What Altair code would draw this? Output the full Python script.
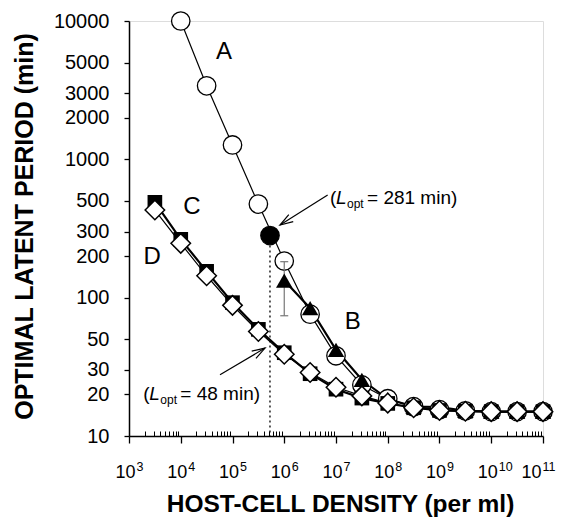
import math
import altair as alt
import pandas as pd

W, H = 414, 415
FONT = "Liberation Sans"

# ---- data ----
density = [3.162e3, 1e4, 3.162e4, 1e5, 3.162e5, 1e6, 3.162e6, 1e7, 3.162e7,
           1e8, 3.162e8, 1e9, 3.162e9, 1e10, 3.162e10, 1e11]
curve_d = [430, 247, 144, 88, 57, 39, 28.8, 22.5, 19.5, 17.3, 16.0, 15.3, 15.1, 15.0, 15.0, 15.0]
curve_c = [489, 264, 155, 92, 59, 40, 28.2, 21.8, 18.8, 17.2, 16.0, 15.3, 15.1, 15.0, 15.0, 15.0]

density_a = [1e4, 3.162e4, 1e5, 3.162e5, 1e6, 3.162e6, 1e7, 3.162e7, 1e8,
             3.162e8, 1e9, 3.162e9, 1e10, 3.162e10, 1e11]
curve_a = [10000, 3400, 1270, 475, 184, 76, 38, 23.4, 18.6, 16.3, 15.5, 15.2, 15.0, 15.0, 15.0]

density_b = [1e6, 3.162e6, 1e7, 3.162e7, 1e8, 3.162e8, 1e9, 3.162e9, 1e10, 3.162e10, 1e11]
curve_b = [133, 84, 42, 25.5, 18.5, 16.3, 16.2, 15.2, 15.0, 15.0, 15.0]

opt_x = [5.3e5]
opt_y = [281]
axis_floor = [10]

err_x = [1e6]
err_lo = [74]
err_hi = [182]

letters = ["A", "B", "C", "D"]
letter_x = [6.85e4, 2.11e7, 1.65e4, 2.8e3]
letter_y = [5960, 67, 453, 196]

ann_rest = ["= 281 min)", "= 48 min)"]
ann_x = [7.66e6, 1.89e3]
ann_y = [475, 18.2]

arrow_x = [6.9e6, 5.73e4]
arrow_y = [552, 27.7]
arrow_tx = [8.28e5, 4.25e5]
arrow_ty = [335, 43.2]

y_ticks = [10, 20, 30, 50, 100, 200, 300, 500, 1000, 2000, 3000, 5000, 10000]
decades = [1e3, 1e4, 1e5, 1e6, 1e7, 1e8, 1e9, 1e10, 1e11]
minors = [m * 10 ** k for k in range(3, 11) for m in range(2, 10)]

# ---- helpers ----
xs = alt.Scale(type="log", domain=[1e3, 1e11], nice=False)
ys = alt.Scale(type="log", domain=[10, 10000], nice=False)

y_axis = alt.Axis(values=y_ticks, format="d", grid=False,
                  title="OPTIMAL LATENT PERIOD (min)",
                  tickSize=5, tickWidth=1.3, tickColor="black",
                  domainColor="black", domainWidth=1.5,
                  labelFont=FONT, labelFontSize=20, labelColor="black",
                  labelPadding=15, labelFlush=False, labelOverlap=False,
                  titleFont=FONT, titleFontSize=25, titleFontWeight="bold",
                  titleColor="black", titleX=-97, titleY=205,
                  titleBaseline="alphabetic", titleAngle=270)

last_test = "datum.value > 5e10"

x_main = alt.Axis(orient="bottom", values=decades, grid=False,
                  labelExpr="'10'", labelAlign="right",
                  labelOffset={"condition": {"test": last_test, "value": -2}, "value": 6},
                  labelBaseline="alphabetic", labelPadding=34,
                  labelFont=FONT, labelFontSize=18, labelColor="black",
                  labelFlush=False, labelOverlap=False,
                  tickSize=7, tickWidth=1.3, tickColor="black",
                  domainColor="black", domainWidth=1.5,
                  title="HOST-CELL DENSITY (per ml)",
                  titleFont=FONT, titleFontSize=24.5, titleFontWeight="bold",
                  titleColor="black", titleX=211, titleY=75.7,
                  titleBaseline="alphabetic")

x_exp = alt.Axis(orient="bottom", values=decades, grid=False,
                 labelExpr="'' + round(log(datum.value) / LN10)",
                 labelAlign="left",
                 labelOffset={"condition": {"test": last_test, "value": -1}, "value": 7},
                 labelBaseline="alphabetic", labelPadding=34.7,
                 labelFont=FONT, labelFontSize=12.5, labelColor="black",
                 labelFlush=False, labelOverlap=False,
                 ticks=False, tickSize=0, domain=False, title=None)

x_minor = alt.Axis(orient="bottom", values=minors, grid=False,
                   labels=False, domain=False, ticks=True,
                   tickSize=5, tickWidth=1, tickColor="black",
                   offset=-5, title=None)


def X(field="x", axis=None):
    return alt.X(f"{field}:Q", scale=xs, axis=axis)


def Y(field="y"):
    return alt.Y(f"{field}:Q", scale=ys, axis=y_axis)


df_a = pd.DataFrame({"x": density_a, "y": curve_a})
df_b = pd.DataFrame({"x": density_b, "y": curve_b})
df_c = pd.DataFrame({"x": density, "y": curve_c})
df_d = pd.DataFrame({"x": density, "y": curve_d})
df_opt = pd.DataFrame({"x": opt_x, "y": opt_y, "y0": axis_floor})
df_err = pd.DataFrame({"x": err_x, "y": err_lo, "y2": err_hi})
df_caps = pd.DataFrame({"x": err_x + err_x, "y": err_lo + err_hi})
df_letters = pd.DataFrame({"x": letter_x, "y": letter_y, "t": letters})
df_ann = pd.DataFrame({"x": ann_x, "y": ann_y, "t": ann_rest})


def screen_angle(sx, sy, tx, ty):
    dx = (math.log10(tx) - math.log10(sx)) * W / 8
    dy = -(math.log10(ty) - math.log10(sy)) * H / 3
    return math.degrees(math.atan2(dy, dx)) % 360


df_arrow = pd.DataFrame({
    "x": arrow_x, "y": arrow_y, "x2": arrow_tx, "y2": arrow_ty,
    "ang": [screen_angle(a, b, c, d) for a, b, c, d in zip(arrow_x, arrow_y, arrow_tx, arrow_ty)],
})

layers = []

# dotted drop line at the optimum
layers.append(alt.Chart(df_opt).mark_rule(color="black", strokeWidth=1.3, strokeDash=[2, 3]).encode(
    x=X(axis=x_minor), y=Y(), y2=alt.Y2("y0:Q")))

# curves
layers.append(alt.Chart(df_a).mark_line(color="black", strokeWidth=1.2).encode(x=X(axis=x_main), y=Y()))
layers.append(alt.Chart(df_b).mark_line(color="black", strokeWidth=2.2).encode(x=X(axis=x_exp), y=Y()))
layers.append(alt.Chart(df_c).mark_line(color="black", strokeWidth=2.2).encode(x=X(), y=Y()))
layers.append(alt.Chart(df_d).mark_line(color="black", strokeWidth=1.2).encode(x=X(), y=Y()))

# markers
layers.append(alt.Chart(df_a).mark_point(shape="circle", filled=True, fill="white", stroke="black",
                                         strokeWidth=1.3, size=340, opacity=1).encode(x=X(), y=Y()))
layers.append(alt.Chart(df_opt).mark_point(shape="circle", filled=True, fill="black", stroke="black",
                                           strokeWidth=1.3, size=340, opacity=1).encode(x=X(), y=Y()))
layers.append(alt.Chart(df_err).mark_rule(color="#777777", strokeWidth=1.2).encode(
    x=X(), y=Y(), y2=alt.Y2("y2:Q")))
layers.append(alt.Chart(df_caps).mark_tick(orient="horizontal", color="#777777", size=8, thickness=1.2,
                                           opacity=1).encode(x=X(), y=Y()))
layers.append(alt.Chart(df_b).mark_point(shape="triangle-up", filled=True, color="black",
                                         size=270, opacity=1).encode(x=X(), y=Y()))
layers.append(alt.Chart(df_c).mark_point(shape="square", filled=True, color="black",
                                         size=215, opacity=1).encode(x=X(), y=Y()))
layers.append(alt.Chart(df_d).mark_point(shape="diamond", filled=True, fill="white", stroke="black",
                                         strokeWidth=1.5, size=380, opacity=1).encode(x=X(), y=Y()))

# curve letters
layers.append(alt.Chart(df_letters).mark_text(font=FONT, fontSize=24, color="black",
                                              align="center", baseline="middle").encode(
    x=X(), y=Y(), text="t:N"))

# annotation arrows
layers.append(alt.Chart(df_arrow).mark_rule(color="black", strokeWidth=1.2).encode(
    x=X(), y=Y(), x2=alt.X2("x2:Q"), y2=alt.Y2("y2:Q")))
layers.append(alt.Chart(df_arrow).mark_point(shape="M-1,-0.32L0,0L-1,0.32", filled=False,
                                             color="black", strokeWidth=1.2, size=676,
                                             opacity=1).encode(
    x=X("x2"), y=Y("y2"), angle=alt.Angle("ang:Q", scale=None)))

# annotation texts: "(" + italic L + subscript opt + rest
txt = dict(font=FONT, color="black", align="left", baseline="alphabetic")
layers.append(alt.Chart(df_ann).mark_text(fontSize=19, text="(", **txt).encode(x=X(), y=Y()))
layers.append(alt.Chart(df_ann).mark_text(fontSize=19, text="L", fontStyle="italic", dx=6, **txt).encode(
    x=X(), y=Y()))
layers.append(alt.Chart(df_ann).mark_text(fontSize=12, text="opt", dx=17, dy=4, **txt).encode(
    x=X(), y=Y()))
layers.append(alt.Chart(df_ann).mark_text(fontSize=19, dx=37, **txt).encode(
    x=X(), y=Y(), text="t:N"))

chart = alt.layer(*layers).resolve_axis(x="independent").properties(
    width=W, height=H,
    autosize=alt.AutoSizeParams(type="none"),
    padding={"left": 121, "top": 13, "right": 14, "bottom": 81},
).configure_view(stroke="black", strokeWidth=1.2).configure(font=FONT)

chart.save("out.html", embed_options={"renderer": "svg", "actions": False})
